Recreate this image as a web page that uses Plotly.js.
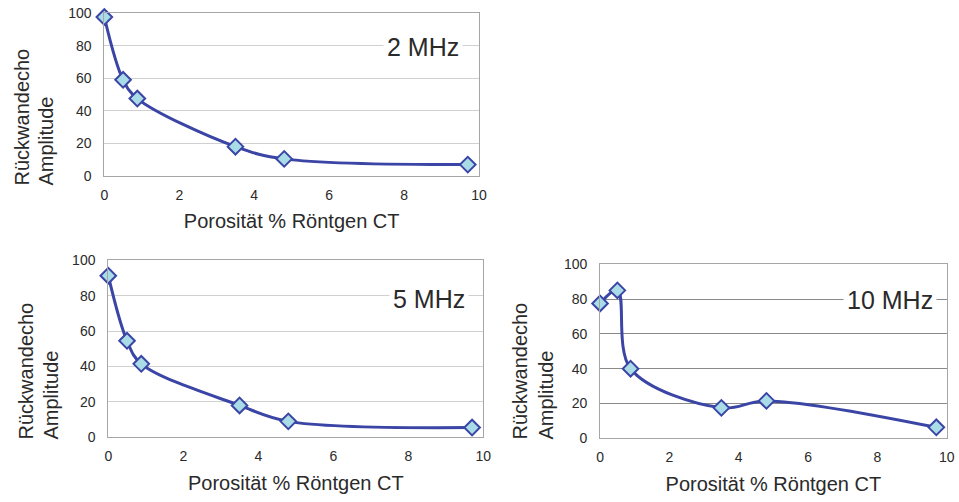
<!DOCTYPE html>
<html>
<head>
<meta charset="utf-8">
<script src="https://cdn.plot.ly/plotly-3.0.1.min.js"></script>
<style>html,body{margin:0;padding:0;background:#fff;}#chart{width:959px;height:502px;}</style>
</head>
<body>
<div id="chart"></div>
<script>
// Data
const porosity = [0, 0.5, 0.88, 3.5, 4.8, 9.7];
const amp2MHz = [97.5, 59, 47.5, 18, 10.5, 7];
const amp5MHz = [91.3, 54.5, 41.5, 18, 9, 5.5];
const amp10MHz = [77.5, 85, 40, 17.5, 21.5, 6.3];
const panelLabels = ["2 MHz", "5 MHz", "10 MHz"];
const xTitle = "Porosität % Röntgen CT";
const yTitleLines = ["Rückwandecho", "Amplitude"];

const lineColor = "#3B45A5";
const markerFill = "#A9DCE6";
const textColor = "#2a2a2a";
const fontFam = "Liberation Sans, Arial, sans-serif";
const W = 959, H = 502;

function trace(y, xa, ya) {
  return {
    x: porosity, y: y, xaxis: xa, yaxis: ya,
    type: "scatter", mode: "lines+markers",
    line: {color: lineColor, width: 3, shape: "spline", smoothing: 1},
    marker: {symbol: "diamond", size: 12, color: markerFill, line: {color: lineColor, width: 2}},
    cliponaxis: false, showlegend: false, hoverinfo: "x+y"
  };
}

function xaxis(domain, anchor) {
  return {
    domain: domain, anchor: anchor, range: [0, 10], dtick: 2, tick0: 0,
    showgrid: false, zeroline: false, showline: true, mirror: true,
    linecolor: "#A6A6A6", linewidth: 1, ticks: "", ticklabelstandoff: 6,
    tickfont: {family: fontFam, size: 14, color: textColor},
    title: {text: xTitle, font: {family: fontFam, size: 20, color: textColor}, standoff: 12}
  };
}
function yaxis(domain, anchor, gridcolor) {
  return {
    domain: domain, anchor: anchor, range: [0, 100], dtick: 20, tick0: 0,
    showgrid: true, gridcolor: gridcolor, gridwidth: 1, zeroline: false,
    showline: true, mirror: true, linecolor: "#A6A6A6", linewidth: 1, ticks: "",
    ticklabelstandoff: 9,
    tickfont: {family: fontFam, size: 14, color: textColor}
  };
}

const data = [
  trace(amp2MHz, "x", "y"),
  trace(amp5MHz, "x2", "y2"),
  trace(amp10MHz, "x3", "y3")
];

function label(text, xref, yref, x, y) {
  return {
    text: text, xref: xref, yref: yref, x: x, y: y,
    xanchor: "center", yanchor: "middle", showarrow: false,
    font: {family: fontFam, size: 25, color: textColor},
    bgcolor: "#ffffff", borderpad: 3
  };
}
function ytitle(text, px, pyBottom) {
  return {
    text: text, xref: "paper", yref: "paper", x: px / W, y: 1 - pyBottom / H,
    xanchor: "center", yanchor: "bottom", textangle: -90, showarrow: false,
    font: {family: fontFam, size: 20, color: textColor}
  };
}

const layout = {
  width: W, height: H,
  margin: {l: 0, r: 0, t: 0, b: 0},
  paper_bgcolor: "#fff", plot_bgcolor: "#fff",
  xaxis: xaxis([0.1088, 0.4995], "y"),
  yaxis: yaxis([0.6494, 0.9741], "x", "#D0D0D0"),
  xaxis2: xaxis([0.1129, 0.5040], "y2"),
  yaxis2: yaxis([0.1289, 0.4815], "x2", "#D0D0D0"),
  xaxis3: xaxis([0.6257, 0.9872], "y3"),
  yaxis3: yaxis([0.1269, 0.4735], "x3", "#8A8A8A"),
  annotations: [
    label(panelLabels[0], "x", "y", 8.51, 79),
    label(panelLabels[1], "x2", "y2", 8.54, 78),
    label(panelLabels[2], "x3", "y3", 8.36, 79.5),
    ytitle(yTitleLines[0], 21, 188), ytitle(yTitleLines[1], 45, 188),
    ytitle(yTitleLines[0], 25, 442), ytitle(yTitleLines[1], 50, 442),
    ytitle(yTitleLines[0], 519, 442), ytitle(yTitleLines[1], 545, 442)
  ]
};

Plotly.newPlot("chart", data, layout, {displayModeBar: false, staticPlot: true});
</script>
</body>
</html>
